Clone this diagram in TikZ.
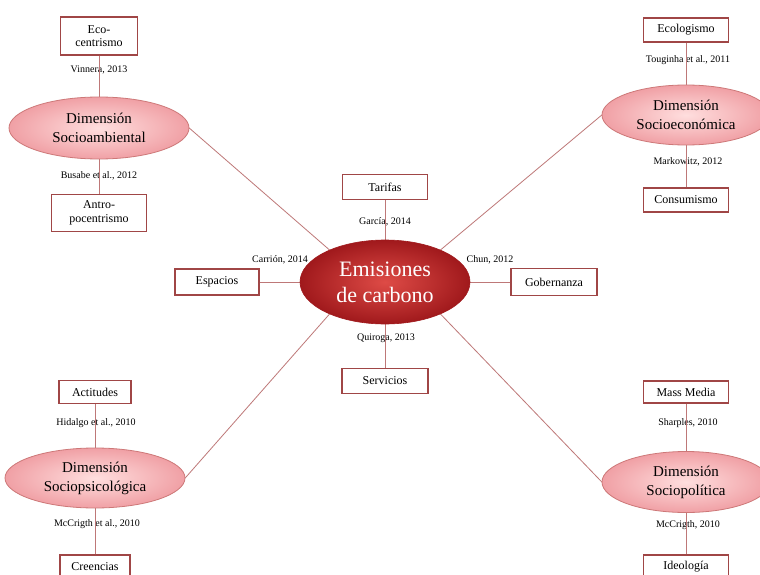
\documentclass[tikz,border=0pt]{standalone}
\usepackage{fontspec}
\setmainfont{Liberation Serif}
\usetikzlibrary{shapes.geometric}
\definecolor{lnc}{RGB}{190,120,120}
\definecolor{boxc}{RGB}{160,70,70}
\definecolor{pinkin}{RGB}{255,222,222}
\definecolor{pinkout}{RGB}{240,160,165}
\definecolor{dimc}{RGB}{205,120,120}
\definecolor{cin}{RGB}{222,75,70}
\definecolor{cout}{RGB}{160,25,28}
\begin{document}
\begin{tikzpicture}[x=1pt,y=-1pt,
  boxnode/.style={draw=boxc, line width=1.1pt, fill=white, inner sep=1pt, align=center, font=\fontsize{12}{13.5}\selectfont},
  dimnode/.style={ellipse, draw=dimc, line width=0.8pt, inner color=pinkin, outer color=pinkout, align=center, font=\fontsize{15}{19}\selectfont, inner sep=0pt},
  citenode/.style={font=\fontsize{10}{12}\selectfont, inner sep=1pt},
  conn/.style={draw=lnc, line width=0.8pt}]
\useasboundingbox (0,0) rectangle (760,575);
\clip (0,0) rectangle (760,575);
\fill[white] (0,0) rectangle (760,575);

% citations (drawn first; connectors pass over them)
\node[citenode] (l1) at (99,70) {Vinnera, 2013};
\node[citenode] (l2) at (99,176) {Busabe et al., 2012};
\node[citenode] (l3) at (688,60) {Touginha et al., 2011};
\node[citenode] (l4) at (688,162) {Markowitz, 2012};
\node[citenode] (l5) at (96,423) {Hidalgo et al., 2010};
\node[citenode] (l6) at (97,524) {McCrigth et al., 2010};
\node[citenode] (l7) at (688,423) {Sharples, 2010};
\node[citenode] (l8) at (688,525) {McCrigth, 2010};
\node[citenode] (l9) at (385,222) {García, 2014};
\node[citenode] (l10) at (280,260) {Carrión, 2014};
\node[citenode] (l11) at (490,260) {Chun, 2012};
\node[citenode] (l12) at (386,338) {Quiroga, 2013};

% coordinates of shapes
\coordinate (pc) at (385,282);
\coordinate (psa) at (99,128);
\coordinate (pse) at (686,115);
\coordinate (psp) at (95,478);
\coordinate (ppo) at (686,482);

% invisible outlines used as connector ends
\node[ellipse, minimum width=170pt, minimum height=84pt, inner sep=0pt] (cshape) at (pc) {};
\node[ellipse, minimum width=180pt, minimum height=62pt, inner sep=0pt] (sashape) at (psa) {};
\node[ellipse, minimum width=168pt, minimum height=60pt, inner sep=0pt] (seshape) at (pse) {};
\node[ellipse, minimum width=180pt, minimum height=60pt, inner sep=0pt] (spshape) at (psp) {};
\node[ellipse, minimum width=168pt, minimum height=61pt, inner sep=0pt] (poshape) at (ppo) {};

\node[boxnode, minimum width=77pt, minimum height=38pt] (eco) at (99,36) {Eco-\\centrismo};
\node[boxnode, minimum width=95pt, minimum height=37pt] (antro) at (99,213) {Antro-\\pocentrismo};
\node[boxnode, minimum width=85pt, minimum height=24pt] (ecol) at (686,30) {Ecologismo};
\node[boxnode, minimum width=85pt, minimum height=24pt] (cons) at (686,200) {Consumismo};
\node[boxnode, minimum width=72pt, minimum height=23pt] (acti) at (95,392) {Actitudes};
\node[boxnode, minimum width=70pt, minimum height=24pt] (cree) at (95,567) {Creencias};
\node[boxnode, minimum width=85pt, minimum height=22pt] (mass) at (686,392) {Mass Media};
\node[boxnode, minimum width=85pt, minimum height=24pt] (ideo) at (686,567) {Ideología};
\node[boxnode, minimum width=85pt, minimum height=25pt] (tari) at (385,187) {Tarifas};
\node[boxnode, minimum width=86pt, minimum height=25pt] (serv) at (385,381) {Servicios};
\node[boxnode, minimum width=84pt, minimum height=26pt] (espa) at (217,282) {Espacios};
\node[boxnode, minimum width=86pt, minimum height=27pt] (gobe) at (554,282) {Gobernanza};

\draw[conn] (eco.south) -- (sashape.north);
\draw[conn] (antro.north) -- (sashape.south);
\draw[conn] (ecol.south) -- (seshape.north);
\draw[conn] (cons.north) -- (seshape.south);
\draw[conn] (acti.south) -- (spshape.north);
\draw[conn] (cree.north) -- (spshape.south);
\draw[conn] (mass.south) -- (poshape.north);
\draw[conn] (ideo.north) -- (poshape.south);
\draw[conn] (tari.south) -- (cshape.north);
\draw[conn] (serv.north) -- (cshape.south);
\draw[conn] (espa.east) -- (cshape.west);
\draw[conn] (gobe.west) -- (cshape.east);
\draw[conn] (sashape.east) -- (cshape.150);
\draw[conn] (seshape.west) -- (cshape.30);
\draw[conn] (spshape.east) -- (cshape.210);
\draw[conn] (poshape.west) -- (cshape.330);

% visible ellipses
\node[dimnode, minimum width=180pt, minimum height=62pt] (sa) at (psa) {Dimensión\\Socioambiental};
\node[dimnode, minimum width=168pt, minimum height=60pt] (se) at (pse) {Dimensión\\Socioeconómica};
\node[dimnode, minimum width=180pt, minimum height=60pt] (sp) at (psp) {Dimensión\\Sociopsicológica};
\node[dimnode, minimum width=168pt, minimum height=61pt] (po) at (ppo) {Dimensión\\Sociopolítica};
\node[ellipse, minimum width=170pt, minimum height=84pt, inner sep=0pt, inner color=cin, outer color=cout, draw=cout, line width=0.6pt, text=white, align=center, font=\fontsize{22}{26}\selectfont] (c) at (pc) {Emisiones\\de carbono};
\end{tikzpicture}
\end{document}
